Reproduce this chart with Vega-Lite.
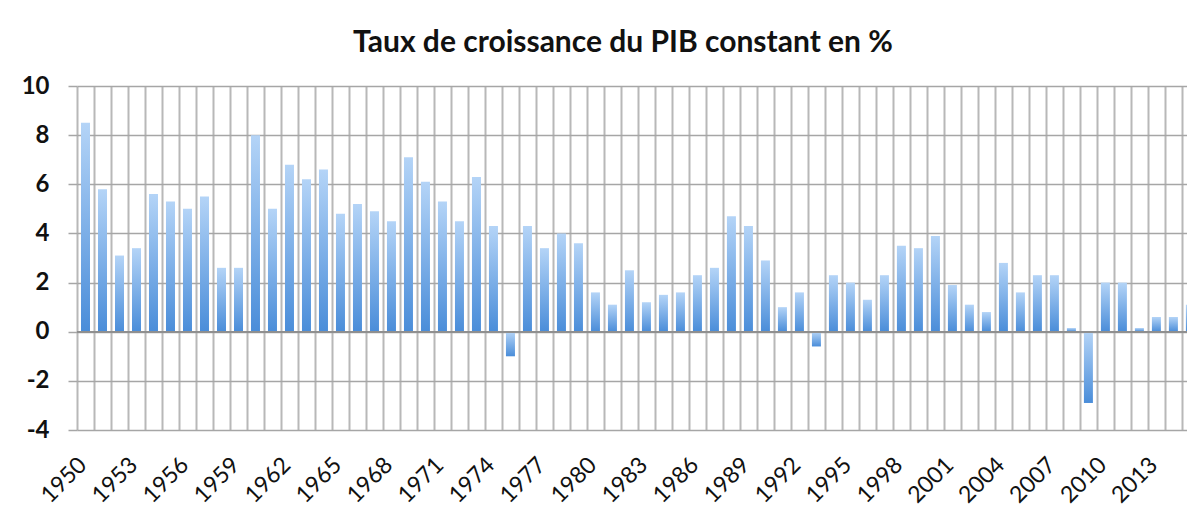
{
  "$schema": "https://vega.github.io/schema/vega-lite/v6.json",
  "width": 1110,
  "height": 344,
  "autosize": {"type": "none"},
  "padding": {"left": 77, "top": 86, "right": 0, "bottom": 82},
  "background": "white",
  "title": {
    "text": "Taux de croissance du PIB constant en %",
    "font": "Lato",
    "fontSize": 30,
    "fontWeight": "bold",
    "color": "#111111",
    "anchor": "middle",
    "frame": "group",
    "offset": 16,
    "dx": -9
  },
  "config": {"view": {"stroke": null}},
  "data": {
    "values": [
      {"annee": 1950, "taux": 8.5}, {"annee": 1951, "taux": 5.8}, {"annee": 1952, "taux": 3.1},
      {"annee": 1953, "taux": 3.4}, {"annee": 1954, "taux": 5.6}, {"annee": 1955, "taux": 5.3},
      {"annee": 1956, "taux": 5.0}, {"annee": 1957, "taux": 5.5}, {"annee": 1958, "taux": 2.6},
      {"annee": 1959, "taux": 2.6}, {"annee": 1960, "taux": 8.0}, {"annee": 1961, "taux": 5.0},
      {"annee": 1962, "taux": 6.8}, {"annee": 1963, "taux": 6.2}, {"annee": 1964, "taux": 6.6},
      {"annee": 1965, "taux": 4.8}, {"annee": 1966, "taux": 5.2}, {"annee": 1967, "taux": 4.9},
      {"annee": 1968, "taux": 4.5}, {"annee": 1969, "taux": 7.1}, {"annee": 1970, "taux": 6.1},
      {"annee": 1971, "taux": 5.3}, {"annee": 1972, "taux": 4.5}, {"annee": 1973, "taux": 6.3},
      {"annee": 1974, "taux": 4.3}, {"annee": 1975, "taux": -1.0}, {"annee": 1976, "taux": 4.3},
      {"annee": 1977, "taux": 3.4}, {"annee": 1978, "taux": 4.0}, {"annee": 1979, "taux": 3.6},
      {"annee": 1980, "taux": 1.6}, {"annee": 1981, "taux": 1.1}, {"annee": 1982, "taux": 2.5},
      {"annee": 1983, "taux": 1.2}, {"annee": 1984, "taux": 1.5}, {"annee": 1985, "taux": 1.6},
      {"annee": 1986, "taux": 2.3}, {"annee": 1987, "taux": 2.6}, {"annee": 1988, "taux": 4.7},
      {"annee": 1989, "taux": 4.3}, {"annee": 1990, "taux": 2.9}, {"annee": 1991, "taux": 1.0},
      {"annee": 1992, "taux": 1.6}, {"annee": 1993, "taux": -0.6}, {"annee": 1994, "taux": 2.3},
      {"annee": 1995, "taux": 2.0}, {"annee": 1996, "taux": 1.3}, {"annee": 1997, "taux": 2.3},
      {"annee": 1998, "taux": 3.5}, {"annee": 1999, "taux": 3.4}, {"annee": 2000, "taux": 3.9},
      {"annee": 2001, "taux": 1.9}, {"annee": 2002, "taux": 1.1}, {"annee": 2003, "taux": 0.8},
      {"annee": 2004, "taux": 2.8}, {"annee": 2005, "taux": 1.6}, {"annee": 2006, "taux": 2.3},
      {"annee": 2007, "taux": 2.3}, {"annee": 2008, "taux": 0.15}, {"annee": 2009, "taux": -2.9},
      {"annee": 2010, "taux": 2.0}, {"annee": 2011, "taux": 2.0}, {"annee": 2012, "taux": 0.15},
      {"annee": 2013, "taux": 0.6}, {"annee": 2014, "taux": 0.6}, {"annee": 2015, "taux": 1.1}
    ]
  },
  "encoding": {
    "y": {
      "field": "taux",
      "type": "quantitative",
      "scale": {"domain": [-4, 10], "nice": false, "padding": 0},
      "axis": {
        "title": null,
        "values": [-4, -2, 0, 2, 4, 6, 8, 10],
        "labelExpr": "'' + datum.value",
        "grid": true,
        "gridColor": "#a6a6a6",
        "gridWidth": 1.5,
        "domain": false,
        "tickSize": 9,
        "tickColor": "#a6a6a6",
        "tickWidth": 1.5,
        "labelFont": "Lato",
        "labelFontSize": 24,
        "labelFontWeight": "bold",
        "labelColor": "#111111",
        "labelPadding": 19
      }
    }
  },
  "layer": [
    {
      "mark": {
        "type": "bar",
        "width": 9,
        "clip": true,
        "color": {
          "gradient": "linear",
          "x1": 0, "y1": 0, "x2": 0, "y2": 1,
          "stops": [
            {"offset": 0, "color": "#b4d4f7"},
            {"offset": 1, "color": "#4a8dd9"}
          ]
        }
      },
      "encoding": {
        "x": {
          "field": "annee",
          "type": "quantitative",
          "scale": {"domain": [1949.5, 2014.8], "nice": false, "zero": false, "padding": 0},
          "axis": {
            "title": null,
            "values": [1949.5, 1950.5, 1951.5, 1952.5, 1953.5, 1954.5, 1955.5, 1956.5, 1957.5, 1958.5, 1959.5, 1960.5, 1961.5, 1962.5, 1963.5, 1964.5, 1965.5, 1966.5, 1967.5, 1968.5, 1969.5, 1970.5, 1971.5, 1972.5, 1973.5, 1974.5, 1975.5, 1976.5, 1977.5, 1978.5, 1979.5, 1980.5, 1981.5, 1982.5, 1983.5, 1984.5, 1985.5, 1986.5, 1987.5, 1988.5, 1989.5, 1990.5, 1991.5, 1992.5, 1993.5, 1994.5, 1995.5, 1996.5, 1997.5, 1998.5, 1999.5, 2000.5, 2001.5, 2002.5, 2003.5, 2004.5, 2005.5, 2006.5, 2007.5, 2008.5, 2009.5, 2010.5, 2011.5, 2012.5, 2013.5, 2014.5],
            "labels": false,
            "ticks": false,
            "domain": false,
            "grid": true,
            "gridColor": "#b8b8b8",
            "gridWidth": 2
          }
        }
      }
    },
    {
      "mark": {"type": "rule", "color": "#8f8f8f", "strokeWidth": 1.5},
      "encoding": {"y": {"datum": 0}}
    },
    {
      "mark": {"type": "bar", "width": 9, "opacity": 0, "clip": true},
      "encoding": {
        "x": {
          "field": "annee",
          "type": "quantitative",
          "scale": {"domain": [1949.5, 2014.8], "nice": false, "zero": false, "padding": 0},
          "axis": {
            "title": null,
            "orient": "bottom",
            "values": [1950, 1953, 1956, 1959, 1962, 1965, 1968, 1971, 1974, 1977, 1980, 1983, 1986, 1989, 1992, 1995, 1998, 2001, 2004, 2007, 2010, 2013],
            "format": "d",
            "labelOverlap": false,
            "labelBound": false,
            "labelFlush": false,
            "labelAngle": -45,
            "labelAlign": "right",
            "labelBaseline": "middle",
            "labelPadding": 31,
            "labelOffset": -3,
            "labelFont": "Lato",
            "labelFontSize": 23,
            "labelColor": "#111111",
            "ticks": false,
            "domain": false,
            "grid": false
          }
        }
      }
    }
  ],
  "resolve": {"axis": {"x": "independent"}}
}
